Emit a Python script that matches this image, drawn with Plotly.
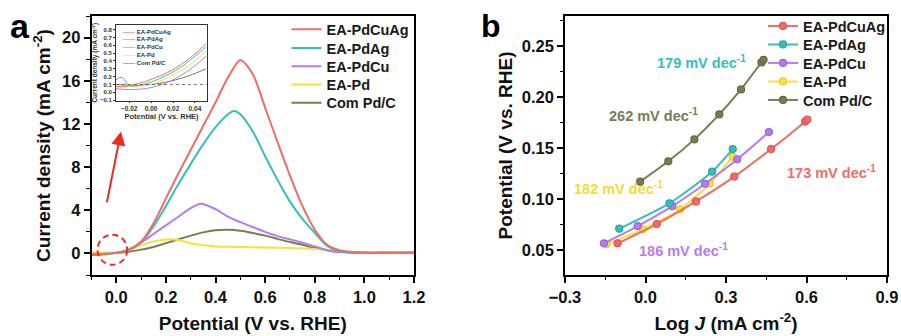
import plotly.graph_objects as go

W, H = 901, 336
FONT = "Liberation Sans, Arial, sans-serif"

names = ["EA-PdCuAg", "EA-PdAg", "EA-PdCu", "EA-Pd", "Com Pd/C"]
colors = ["#F26C64", "#35BFBB", "#B67BF2", "#F5E23A", "#7B7B52"]
dark = ["#E0554D", "#25A8A4", "#9E62DD", "#E6CF20", "#66663F"]

# ---- panel a: CV curves (Potential V vs RHE, current density mA cm-2)
a_x = {
    "EA-PdCuAg": [-0.1, -0.05, 0.0, 0.05, 0.1, 0.15, 0.2, 0.25, 0.3, 0.35, 0.4, 0.45, 0.5, 0.55, 0.6, 0.65, 0.7, 0.75, 0.8, 0.85, 0.9, 0.95, 1.0, 1.1, 1.2],
    "EA-PdAg": [-0.1, -0.05, 0.0, 0.05, 0.1, 0.15, 0.2, 0.25, 0.3, 0.35, 0.4, 0.45, 0.475, 0.5, 0.55, 0.6, 0.65, 0.7, 0.75, 0.8, 0.85, 0.9, 1.0, 1.1, 1.2],
    "EA-PdCu": [-0.1, 0.0, 0.05, 0.1, 0.15, 0.2, 0.25, 0.3, 0.34, 0.4, 0.45, 0.5, 0.55, 0.6, 0.65, 0.7, 0.75, 0.8, 0.85, 0.9, 1.0, 1.2],
    "EA-Pd": [-0.1, 0.0, 0.05, 0.1, 0.15, 0.2, 0.25, 0.3, 0.35, 0.4, 0.5, 0.6, 0.7, 0.8, 0.85, 0.9, 1.0, 1.2],
    "Com Pd/C": [-0.1, 0.0, 0.05, 0.1, 0.15, 0.2, 0.25, 0.3, 0.35, 0.4, 0.45, 0.5, 0.55, 0.6, 0.65, 0.7, 0.75, 0.8, 0.85, 0.9, 1.0, 1.2],
}
a_y = {
    "EA-PdCuAg": [-0.1, -0.05, 0.05, 0.35, 1.1, 2.8, 5.1, 7.4, 9.6, 11.8, 14.0, 16.3, 17.9, 16.6, 13.5, 10.3, 7.2, 4.4, 2.2, 0.8, 0.3, 0.15, 0.1, 0.1, 0.1],
    "EA-PdAg": [-0.15, -0.1, 0.05, 0.3, 1.0, 2.5, 4.4, 6.4, 8.3, 10.1, 11.7, 12.9, 13.2, 12.9, 11.3, 9.0, 6.8, 4.8, 3.2, 1.9, 0.7, 0.2, 0.05, 0.05, 0.05],
    "EA-PdCu": [-0.05, 0.05, 0.35, 1.0, 1.8, 2.6, 3.4, 4.2, 4.6, 4.1, 3.4, 2.9, 2.45, 2.0, 1.6, 1.3, 1.0, 0.65, 0.3, 0.12, 0.05, 0.05],
    "EA-Pd": [0.1, 0.1, 0.3, 0.75, 1.1, 1.3, 1.25, 0.95, 0.75, 0.65, 0.6, 0.55, 0.5, 0.4, 0.3, 0.15, 0.08, 0.05],
    "Com Pd/C": [0.05, 0.05, 0.15, 0.35, 0.6, 0.95, 1.3, 1.65, 1.95, 2.15, 2.2, 2.1, 1.9, 1.65, 1.35, 1.05, 0.8, 0.5, 0.3, 0.15, 0.05, 0.05],
}

# ---- inset: onset region
in_x = {
    "EA-PdCuAg": [-0.032, -0.025, -0.02, -0.015, -0.01, -0.005, 0.0, 0.01, 0.02, 0.03, 0.04, 0.05],
    "EA-PdAg": [-0.032, -0.029, -0.026, -0.023, -0.02, -0.015, -0.01, -0.005, 0.0, 0.01, 0.02, 0.03, 0.04, 0.05],
    "EA-PdCu": [-0.032, -0.02, -0.01, 0.0, 0.01, 0.02, 0.03, 0.04, 0.05],
    "EA-Pd": [-0.032, -0.02, -0.01, 0.0, 0.01, 0.02, 0.03, 0.04, 0.05],
    "Com Pd/C": [-0.032, -0.02, -0.01, 0.0, 0.01, 0.02, 0.03, 0.04, 0.05],
}
in_y = {
    "EA-PdCuAg": [0.07, 0.075, 0.085, 0.1, 0.12, 0.14, 0.165, 0.22, 0.29, 0.38, 0.49, 0.62],
    "EA-PdAg": [0.16, 0.185, 0.19, 0.13, 0.085, 0.08, 0.09, 0.11, 0.13, 0.19, 0.26, 0.35, 0.46, 0.58],
    "EA-PdCu": [0.045, 0.035, 0.04, 0.06, 0.1, 0.16, 0.24, 0.34, 0.46],
    "EA-Pd": [0.08, 0.075, 0.08, 0.1, 0.15, 0.22, 0.3, 0.4, 0.53],
    "Com Pd/C": [0.1, 0.09, 0.09, 0.1, 0.12, 0.15, 0.19, 0.24, 0.30],
}
inset_ref_level = 0.1

# ---- panel b: Tafel plots (log J, potential)
b_x = {
    "EA-PdCuAg": [-0.104, 0.042, 0.188, 0.331, 0.468, 0.595, 0.603],
    "EA-PdAg": [-0.098, 0.089, 0.248, 0.325],
    "EA-PdCu": [-0.155, -0.029, 0.100, 0.222, 0.342, 0.460],
    "EA-Pd": [-0.145, -0.010, 0.129, 0.240, 0.325],
    "Com Pd/C": [-0.020, 0.085, 0.182, 0.275, 0.356, 0.432, 0.440],
}
b_y = {
    "EA-PdCuAg": [0.0566, 0.0755, 0.0977, 0.122, 0.149, 0.176, 0.178],
    "EA-PdAg": [0.0709, 0.0958, 0.1268, 0.149],
    "EA-PdCu": [0.0566, 0.0735, 0.093, 0.115, 0.139, 0.1657],
    "EA-Pd": [0.0559, 0.0703, 0.090, 0.115, 0.1415],
    "Com Pd/C": [0.117, 0.137, 0.1585, 0.183, 0.2075, 0.234, 0.2365],
}
tafel_labels = ["173 mV dec<sup>-1</sup>", "179 mV dec<sup>-1</sup>", "186 mV dec<sup>-1</sup>",
                "182 mV dec<sup>-1</sup>", "262 mV dec<sup>-1</sup>"]
tafel_pos = [(0.694, 0.1268), (0.2095, 0.2346), (0.141, 0.050), (-0.101, 0.1105), (0.029, 0.1824)]

fig = go.Figure()

def px(v):
    return v / W

def py(v):
    return 1 - v / H

order = [4, 3, 2, 1, 0]
legend_rows_a = [29.3, 48.0, 66.3, 84.6, 102.9]
legend_rows_b = [26.0, 44.5, 63.0, 81.5, 100.0]
for i in order:
    n = names[i]
    fig.add_trace(go.Scatter(x=a_x[n], y=a_y[n], mode="lines", name=n,
                             line=dict(color=colors[i], width=2, shape="spline", smoothing=0.8),
                             xaxis="x", yaxis="y", legend="legend" if i == 0 else f"legend{i+1}"))
for i in order:
    n = names[i]
    fig.add_trace(go.Scatter(x=in_x[n], y=in_y[n], mode="lines", name=n, showlegend=False,
                             line=dict(color=colors[i], width=1, shape="spline", smoothing=0.8),
                             xaxis="x3", yaxis="y3"))
for i in order:
    n = names[i]
    fig.add_trace(go.Scatter(x=b_x[n], y=b_y[n], mode="lines+markers", name=n,
                             line=dict(color=colors[i], width=2, shape="spline", smoothing=0.6),
                             marker=dict(symbol="circle", size=7, color=colors[i],
                                         line=dict(color=dark[i], width=1.2)),
                             xaxis="x2", yaxis="y2", legend=f"legend{i+6}"))

lf = dict(family=FONT, size=14.5, color="#1a1a1a", weight="bold")
legends = {}
for i in range(5):
    key = "legend" if i == 0 else f"legend{i+1}"
    legends[key] = dict(x=px(286.5), y=py(legend_rows_a[i]), xanchor="left", yanchor="middle",
                        bgcolor="rgba(0,0,0,0)", borderwidth=0, font=lf, tracegroupgap=0)
    legends[f"legend{i+6}"] = dict(x=px(763), y=py(legend_rows_b[i]), xanchor="left", yanchor="middle",
                                   bgcolor="rgba(0,0,0,0)", borderwidth=0, font=lf, tracegroupgap=0)

tickf = dict(family=FONT, size=16.5, color="#111", weight="bold")
titlef = dict(family=FONT, size=19, color="#111", weight="bold")

def main_axis(**kw):
    d = dict(showline=True, linecolor="black", linewidth=1.6, mirror=True, ticks="outside",
             ticklen=6, tickwidth=1.6, tickcolor="black", showgrid=False, zeroline=False,
             tickfont=tickf)
    d.update(kw)
    return d

fig.update_layout(
    width=W, height=H, margin=dict(l=0, r=0, t=0, b=0, autoexpand=False),
    paper_bgcolor="white", plot_bgcolor="white", showlegend=True,
    xaxis=main_axis(domain=[px(91.5), px(414)], range=[-0.1, 1.2], dtick=0.2, tick0=0,
                    tickformat=".1f", anchor="y",
                    minor=dict(ticks="outside", ticklen=3.5, dtick=0.1, tickcolor="black", tickwidth=1.3),
                    title=dict(text="Potential (V vs. RHE)", font=titlef, standoff=12)),
    yaxis=main_axis(domain=[py(275), py(16)], range=[-2, 22], dtick=4, tick0=0, anchor="x",
                    minor=dict(ticks="outside", ticklen=3.5, dtick=2, tickcolor="black", tickwidth=1.3),
                    title=dict(text="Current density (mA cm<sup>-2</sup>)", font=titlef, standoff=6)),
    xaxis2=main_axis(domain=[px(565), px(887)], range=[-0.3, 0.9], dtick=0.3, tick0=-0.3,
                     tickformat=".1f", anchor="y2",
                     minor=dict(ticks="outside", ticklen=3.5, dtick=0.15, tickcolor="black", tickwidth=1.3),
                     title=dict(text="Log <i>J</i> (mA cm<sup>-2</sup>)", font=titlef, standoff=12)),
    yaxis2=main_axis(domain=[py(275), py(16)], range=[0.0255, 0.2795], dtick=0.05, tick0=0.05,
                     tickformat=".2f", anchor="x2",
                     minor=dict(ticks="outside", ticklen=3.5, dtick=0.025, tickcolor="black", tickwidth=1.3),
                     title=dict(text="Potential (V vs. RHE)", font=titlef, standoff=4)),
    xaxis3=dict(domain=[px(116), px(207)], range=[-0.032, 0.051], dtick=0.02, tick0=0,
                tickformat=".2f", anchor="y3", showline=True, linecolor="#333", linewidth=0.8,
                mirror=True, ticks="outside", ticklen=2, tickwidth=0.7, tickcolor="#333",
                showgrid=False, zeroline=False,
                tickfont=dict(family=FONT, size=6.5, color="#333", weight="bold"),
                title=dict(text="Potential (V vs. RHE)", standoff=1,
                           font=dict(family=FONT, size=7.5, color="#333", weight="bold"))),
    yaxis3=dict(domain=[py(100.5), py(25)], range=[-0.105, 0.86], dtick=0.1, tick0=0,
                tickformat=".1f", anchor="x3", showline=True, linecolor="#333", linewidth=0.8,
                mirror=True, ticks="outside", ticklen=2, tickwidth=0.7, tickcolor="#333",
                showgrid=False, zeroline=False,
                tickfont=dict(family=FONT, size=6, color="#333", weight="bold"),
                title=dict(text="Current density (mA cm<sup>-2</sup>)", standoff=1,
                           font=dict(family=FONT, size=6.5, color="#333", weight="bold"))),
    **legends,
)

# inset reference dotted line
fig.add_shape(type="line", xref="x3 domain", yref="y3", x0=0, x1=1,
              y0=inset_ref_level, y1=inset_ref_level,
              line=dict(color="#555", width=0.8, dash="dot"))

# inset legend (text rows)
inset_rows = [31.7, 39.4, 47.1, 54.8, 62.5]
for i, n in enumerate(names):
    fig.add_annotation(xref="paper", yref="paper", x=px(120.5), y=py(inset_rows[i]),
                       xanchor="left", yanchor="middle", showarrow=False,
                       text=f"<span style='color:{colors[i]}'>——</span> {n}",
                       font=dict(family=FONT, size=6, color="#333", weight="bold"))

# red dashed circle and arrow in panel a
circle_center = (-0.016, 0.34)
circle_r = (0.06, 1.39)
fig.add_shape(type="circle", xref="x", yref="y", layer="above",
              x0=circle_center[0] - circle_r[0], x1=circle_center[0] + circle_r[0],
              y0=circle_center[1] - circle_r[1], y1=circle_center[1] + circle_r[1],
              line=dict(color="#E8302A", width=2, dash="6px,4px"))
arrow_from = (-0.039, 4.6)
arrow_to = (0.019, 11.3)
fig.add_annotation(xref="x", yref="y", axref="x", ayref="y", x=arrow_to[0], y=arrow_to[1],
                   ax=arrow_from[0], ay=arrow_from[1], showarrow=True, text="",
                   arrowhead=2, arrowsize=1.4, arrowwidth=2, arrowcolor="#EE2A24")

# Tafel slope labels
tafel_colors = [colors[0], colors[1], colors[2], "#F5DA35", colors[4]]
for lab, (x, y), c in zip(tafel_labels, tafel_pos, tafel_colors):
    fig.add_annotation(xref="x2", yref="y2", x=x, y=y, text=lab, showarrow=False,
                       xanchor="center", yanchor="middle",
                       font=dict(family=FONT, size=14.5, color=c, weight="bold"))

# panel labels
fig.add_annotation(xref="paper", yref="paper", x=px(20), y=py(26), text="a", showarrow=False,
                   xanchor="center", yanchor="middle",
                   font=dict(family=FONT, size=34, color="black", weight="bold"))
fig.add_annotation(xref="paper", yref="paper", x=px(491), y=py(26), text="b", showarrow=False,
                   xanchor="center", yanchor="middle",
                   font=dict(family=FONT, size=32, color="black", weight="bold"))

fig.write_html("out.html")
